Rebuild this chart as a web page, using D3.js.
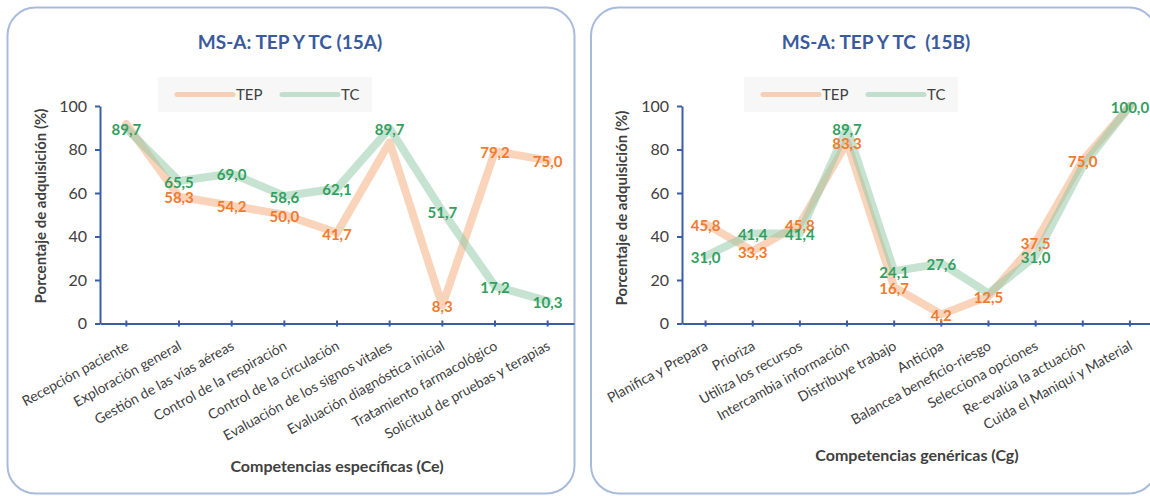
<!DOCTYPE html>
<html><head><meta charset="utf-8">
<script src="https://cdn.jsdelivr.net/npm/d3@7"></script>
<style>
html,body{margin:0;padding:0;background:#fff;}
svg{display:block;font-family:Lato,"Open Sans",sans-serif;}
</style></head>
<body><svg id="c" width="1150" height="496"></svg>
<script>
// ---- data ----
const seriesNames = ["TEP", "TC"];
const yTicks = [0, 20, 40, 60, 80, 100];

const catsA = ["Recepción paciente","Exploración general","Gestión de las vías aéreas","Control de la respiración","Control de la circulación","Evaluación de los signos vitales","Evaluación diagnóstica inicial","Tratamiento farmacológico","Solicitud de pruebas y terapias"];
const tepA = [91.7, 58.3, 54.2, 50.0, 41.7, 83.3, 8.3, 79.2, 75.0];
const tcA  = [89.7, 65.5, 69.0, 58.6, 62.1, 89.7, 51.7, 17.2, 10.3];
const tepLabA = [false, true, true, true, true, false, true, true, true];
const tcLabA  = [true, true, true, true, true, true, true, true, true];

const catsB = ["Planifica y Prepara","Prioriza","Utiliza los recursos","Intercambia información","Distribuye trabajo","Anticipa","Balancea beneficio-riesgo","Selecciona opciones","Re-evalúa la actuación","Cuida el Maniquí y Material"];
const tepB = [45.8, 33.3, 45.8, 83.3, 16.7, 4.2, 12.5, 37.5, 75.0, 100.0];
const tcB  = [31.0, 41.4, 41.4, 89.7, 24.1, 27.6, 13.8, 31.0, 72.4, 100.0];
const tepLabB = [true, true, true, true, true, true, true, true, true, false];
const tcLabB  = [true, true, true, true, true, true, false, true, false, true];

const fmt = v => v.toFixed(1).replace(".", ",");

const svg = d3.select("#c");
const C = {
  border:"#a9bbdd", axis:"#3b5ca6", title:"#3a5a9e", text:"#404040",
  tepLine:"#f4b183", tcLine:"#8dc8a5", tepLab:"#ef7b30", tcLab:"#33a061"
};

function panel(cfg){
  const g = svg.append("g");
  g.append("rect").attr("x",cfg.px).attr("y",7.5).attr("width",cfg.pw).attr("height",486)
    .attr("rx",28).attr("fill","#fff").attr("stroke",C.border).attr("stroke-width",2);
  g.append("text").attr("x",cfg.titleX).attr("y",49).attr("text-anchor","middle")
    .style("white-space","pre")
    .attr("font-size",19).attr("font-weight","bold").attr("fill",C.title).text(cfg.title);

  // legend
  const lg = g.append("g").attr("transform",`translate(${cfg.legX},77)`);
  lg.append("rect").attr("width",214).attr("height",35).attr("fill","#f7f7f7");
  [[C.tepLine,0.55,19,seriesNames[0]],[C.tcLine,0.5,124,seriesNames[1]]].forEach(([c,o,x0,t])=>{
    lg.append("line").attr("x1",x0).attr("x2",x0+56).attr("y1",17.5).attr("y2",17.5)
      .attr("stroke",c).attr("stroke-opacity",o).attr("stroke-width",5).attr("stroke-linecap","round");
    lg.append("text").attr("x",x0+59).attr("y",17.5).attr("dy","0.36em").attr("font-size",15)
      .attr("fill",C.text).text(t);
  });

  const x = d3.scaleBand().domain(cfg.cats).range([cfg.x0, cfg.x1]);
  const cx = d => x(d) + x.bandwidth()/2;
  const y = d3.scaleLinear().domain([0,100]).range([323.5,106]);

  // y axis
  const ya = g.append("g").attr("transform",`translate(${cfg.x0},0)`)
    .call(d3.axisLeft(y).tickValues(yTicks).tickSizeInner(5).tickSizeOuter(0).tickPadding(8));
  ya.select(".domain").attr("stroke",C.axis).attr("stroke-width",2);
  ya.selectAll(".tick line").attr("stroke",C.axis).attr("stroke-width",2);
  ya.selectAll(".tick text").attr("font-size",16).attr("fill",C.text).attr("font-family","Lato");

  // x axis
  const xa = g.append("g").attr("transform",`translate(0,323.5)`)
    .call(d3.axisBottom(x).tickSizeInner(3).tickSizeOuter(0));
  xa.select(".domain").attr("stroke",C.axis).attr("stroke-width",2);
  xa.selectAll(".tick line").attr("stroke",C.axis).attr("stroke-width",2).attr("y1",-3).attr("y2",3);
  xa.selectAll(".tick text").attr("font-size",14).attr("fill",C.text).attr("font-family","Lato")
    .attr("x",0).attr("y",0).attr("dy","0.35em").attr("text-anchor","end")
    .attr("transform","translate(1,21) rotate(-29)");

  // axis titles
  g.append("text").attr("transform",`translate(${cfg.ytX},${cfg.ytY}) rotate(-90)`)
    .attr("text-anchor","middle").attr("dy","0.35em").attr("font-size",15).attr("font-weight","bold")
    .attr("fill",C.text).text("Porcentaje de adquisición (%)");
  g.append("text").attr("x",cfg.xtX).attr("y",cfg.xtY).attr("text-anchor","middle").attr("dy","0.35em")
    .attr("font-size",16).attr("font-weight","bold").attr("fill",C.text).text(cfg.xTitle);

  const line = d3.line().x(d=>cx(d.c)).y(d=>y(d.v));
  const mk = arr => arr.map((v,i)=>({c:cfg.cats[i], v, i}));
  const tep = mk(cfg.tep), tc = mk(cfg.tc);
  g.append("path").datum(tep).attr("d",line).attr("fill","none").attr("stroke",C.tepLine)
    .attr("stroke-opacity",0.55).attr("stroke-width",8).attr("stroke-linejoin","round").attr("stroke-linecap","round");
  g.append("path").datum(tc).attr("d",line).attr("fill","none").attr("stroke",C.tcLine)
    .attr("stroke-opacity",0.5).attr("stroke-width",8).attr("stroke-linejoin","round").attr("stroke-linecap","round");

  const lab = (data, show, col) => g.append("g").selectAll("text").data(data.filter(d=>show[d.i])).join("text")
    .attr("x",d=>cx(d.c)).attr("y",d=>y(d.v)+1.5).attr("dy","0.35em").attr("text-anchor","middle")
    .attr("font-size",15).attr("font-weight","bold").attr("fill",col).text(d=>fmt(d.v));
  lab(tep, cfg.tepLab, C.tepLab);
  lab(tc, cfg.tcLab, C.tcLab);
}

panel({px:7.5, pw:567, title:"MS-A: TEP Y TC (15A)", titleX:290, legX:158,
  cats:catsA, tep:tepA, tc:tcA, tepLab:tepLabA, tcLab:tcLabA, x0:100, x1:574,
  ytX:41, ytY:206, xTitle:"Competencias específicas (Ce)", xtX:337, xtY:466});
panel({px:591, pw:566, title:"MS-A: TEP Y TC  (15B)", titleX:876, legX:744,
  cats:catsB, tep:tepB, tc:tcB, tepLab:tepLabB, tcLab:tcLabB, x0:682, x1:1153.5,
  ytX:622, ytY:208, xTitle:"Competencias genéricas (Cg)", xtX:917, xtY:455});
</script></body></html>
